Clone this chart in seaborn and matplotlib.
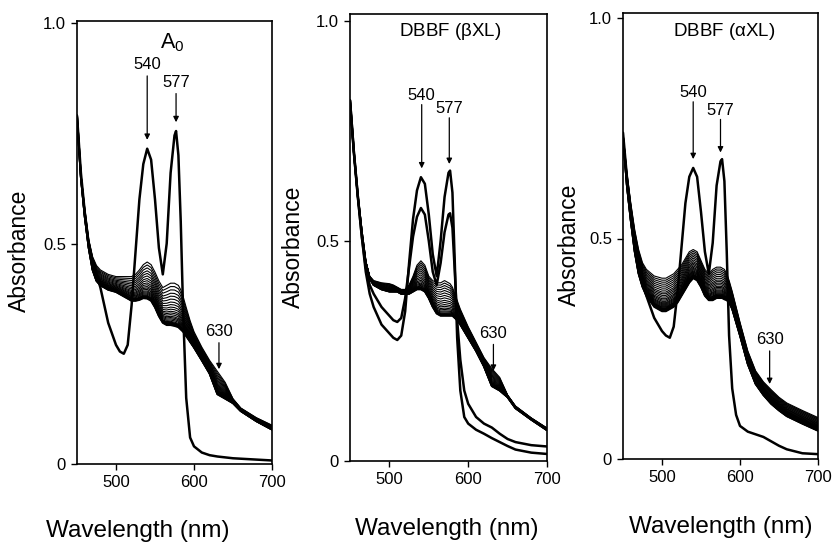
import numpy as np
import pandas as pd
import matplotlib
matplotlib.use("Agg")
import matplotlib.pyplot as plt
import seaborn as sns

# ---------------- data ----------------
wavelength = [450, 455, 460, 465, 470, 475, 480, 490, 500, 505, 510, 515, 520, 525,
              530, 535, 540, 545, 550, 555, 560, 565, 570, 575, 577, 580, 583, 586,
              590, 595, 600, 610, 620, 630, 640, 650, 660, 680, 700]

# Panel A0
a0_oxy = [0.79, 0.66, 0.57, 0.50, 0.46, 0.43, 0.40, 0.32, 0.27, 0.255, 0.25, 0.27, 0.36, 0.48,
          0.60, 0.68, 0.715, 0.69, 0.60, 0.49, 0.43, 0.50, 0.66, 0.745, 0.755, 0.70, 0.55, 0.35,
          0.15, 0.06, 0.04, 0.026, 0.02, 0.017, 0.015, 0.013, 0.012, 0.010, 0.008]
a0_top = [0.79, 0.66, 0.58, 0.51, 0.47, 0.45, 0.44, 0.43, 0.425, 0.425, 0.425, 0.425, 0.425, 0.43,
          0.44, 0.452, 0.458, 0.452, 0.435, 0.415, 0.40, 0.405, 0.41, 0.41, 0.408, 0.405, 0.395, 0.38,
          0.355, 0.325, 0.30, 0.265, 0.235, 0.21, 0.185, 0.148, 0.127, 0.105, 0.088]
a0_bottom = [0.79, 0.65, 0.56, 0.49, 0.44, 0.415, 0.405, 0.395, 0.39, 0.385, 0.38, 0.375, 0.37, 0.37,
             0.372, 0.376, 0.375, 0.37, 0.355, 0.335, 0.32, 0.315, 0.315, 0.313, 0.312, 0.31, 0.305, 0.30,
             0.29, 0.277, 0.264, 0.235, 0.205, 0.158, 0.148, 0.138, 0.12, 0.097, 0.078]
a0_levels = [0.0, 0.08, 0.16, 0.24, 0.31, 0.38, 0.45, 0.51, 0.57, 0.62, 0.67, 0.71, 0.75,
             0.79, 0.82, 0.85, 0.88, 0.91, 0.93, 0.95, 0.97, 0.985, 1.0]

# Panel DBBF (beta XL)
b_oxy1 = [0.82, 0.70, 0.60, 0.51, 0.43, 0.38, 0.35, 0.31, 0.29, 0.28, 0.275, 0.285, 0.34, 0.45,
          0.55, 0.615, 0.645, 0.63, 0.56, 0.47, 0.42, 0.50, 0.60, 0.655, 0.66, 0.61, 0.45, 0.28,
          0.16, 0.10, 0.085, 0.071, 0.062, 0.052, 0.043, 0.034, 0.026, 0.019, 0.016]
b_oxy2 = [0.82, 0.70, 0.60, 0.51, 0.44, 0.40, 0.38, 0.35, 0.33, 0.32, 0.316, 0.325, 0.37, 0.44,
          0.51, 0.555, 0.575, 0.56, 0.50, 0.43, 0.40, 0.45, 0.52, 0.56, 0.563, 0.53, 0.43, 0.32,
          0.23, 0.16, 0.13, 0.10, 0.085, 0.076, 0.062, 0.05, 0.043, 0.036, 0.033]
b_top = [0.82, 0.70, 0.60, 0.52, 0.455, 0.42, 0.41, 0.405, 0.403, 0.40, 0.395, 0.39, 0.39, 0.40,
         0.42, 0.445, 0.455, 0.445, 0.42, 0.41, 0.405, 0.405, 0.41, 0.405, 0.403, 0.395, 0.38, 0.365,
         0.345, 0.325, 0.305, 0.27, 0.235, 0.21, 0.19, 0.15, 0.125, 0.098, 0.075]
b_bottom = [0.82, 0.70, 0.60, 0.52, 0.45, 0.415, 0.40, 0.39, 0.385, 0.385, 0.385, 0.38, 0.38, 0.38,
            0.385, 0.39, 0.39, 0.385, 0.37, 0.35, 0.335, 0.33, 0.33, 0.33, 0.33, 0.33, 0.325, 0.32,
            0.31, 0.295, 0.28, 0.25, 0.215, 0.17, 0.16, 0.145, 0.12, 0.094, 0.07]
b_levels = [0.0, 0.07, 0.14, 0.21, 0.28, 0.35, 0.42, 0.49, 0.56, 0.62, 0.68, 0.73, 0.78,
            0.82, 0.86, 0.89, 0.92, 0.95, 0.97, 0.985, 1.0]

# Panel DBBF (alpha XL)
c_oxy = [0.74, 0.64, 0.56, 0.49, 0.44, 0.40, 0.37, 0.32, 0.29, 0.28, 0.275, 0.30, 0.38, 0.48,
         0.58, 0.64, 0.66, 0.64, 0.56, 0.47, 0.42, 0.49, 0.62, 0.675, 0.68, 0.63, 0.47, 0.28,
         0.16, 0.10, 0.075, 0.062, 0.056, 0.05, 0.04, 0.03, 0.022, 0.013, 0.011]
c_top = [0.74, 0.65, 0.58, 0.52, 0.475, 0.445, 0.43, 0.415, 0.41, 0.41, 0.415, 0.42, 0.43, 0.44,
         0.455, 0.47, 0.475, 0.47, 0.45, 0.43, 0.42, 0.43, 0.435, 0.435, 0.433, 0.43, 0.42, 0.405,
         0.38, 0.345, 0.31, 0.245, 0.20, 0.175, 0.157, 0.14, 0.127, 0.11, 0.094]
c_bottom = [0.73, 0.62, 0.54, 0.47, 0.42, 0.39, 0.37, 0.345, 0.335, 0.335, 0.34, 0.345, 0.355, 0.37,
            0.385, 0.40, 0.41, 0.405, 0.39, 0.37, 0.36, 0.36, 0.365, 0.365, 0.365, 0.362, 0.36, 0.355,
            0.34, 0.31, 0.28, 0.215, 0.17, 0.145, 0.125, 0.11, 0.097, 0.08, 0.064]
c_levels = [0.0, 0.06, 0.12, 0.18, 0.24, 0.30, 0.36, 0.42, 0.47, 0.52, 0.57, 0.62, 0.66,
            0.70, 0.74, 0.77, 0.80, 0.83, 0.86, 0.88, 0.90, 0.92, 0.94, 0.96, 0.98, 1.0]

titles = ["A$_0$", "DBBF ($\\beta$XL)", "DBBF ($\\alpha$XL)"]
x_ticks = [500, 600, 700]
y_ticks = [0, 0.5, 1.0]
y_ticklabels = ["0", "0.5", "1.0"]
peak_labels = ["540", "577", "630"]

# ---------------- styling ----------------
sns.set_theme(style="ticks")
plt.rcParams["font.family"] = ["Liberation Sans", "DejaVu Sans"]
plt.rcParams["mathtext.fontset"] = "dejavusans"
plt.rcParams["mathtext.default"] = "regular"
plt.rcParams["text.color"] = "black"
plt.rcParams["axes.labelcolor"] = "black"
plt.rcParams["xtick.color"] = "black"
plt.rcParams["ytick.color"] = "black"

fig = plt.figure(figsize=(8.35, 5.46), dpi=100)

W, H = 835, 546
# (left px, right px, zero px, one px, ymax)
layout = [(77, 272, 464, 23, 1.005), (350, 547, 461, 21, 1.015), (623, 818, 459, 18, 1.012)]


def family(top, bottom, levels):
    top = np.asarray(top)
    bottom = np.asarray(bottom)
    return [top + f * (bottom - top) for f in levels]


panels = [
    dict(oxy=[a0_oxy], fam=family(a0_top, a0_bottom, a0_levels),
         ann=[(540, 0.905, 0.88, 0.735), (577, 0.865, 0.84, 0.775), (632, 0.30, 0.275, 0.215)],
         title=(572, 0.955), tsize=15.5, xlab=0.31, ylab=-0.235),
    dict(oxy=[b_oxy1, b_oxy2], fam=family(b_top, b_bottom, b_levels),
         ann=[(541, 0.83, 0.81, 0.665), (576, 0.80, 0.78, 0.675), (632, 0.29, 0.265, 0.205)],
         title=(577, 0.975), tsize=13.5, xlab=0.49, ylab=-0.23),
    dict(oxy=[c_oxy], fam=family(c_top, c_bottom, c_levels),
         ann=[(540, 0.83, 0.81, 0.68), (575, 0.79, 0.77, 0.695), (638, 0.27, 0.245, 0.17)],
         title=(580, 0.97), tsize=13.5, xlab=0.5, ylab=-0.215),
]

for i, (p, (lpx, rpx, zpx, opx, ymax)) in enumerate(zip(panels, layout)):
    unit = zpx - opx
    height_px = unit * ymax
    ax = fig.add_axes([lpx / W, (H - zpx) / H, (rpx - lpx) / W, height_px / H])
    nf = len(p["fam"])
    for k, curve in enumerate(p["fam"]):
        df = pd.DataFrame({"nm": wavelength, "A": curve})
        lw = 0.8 if k < nf - 4 else 1.4
        sns.lineplot(data=df, x="nm", y="A", ax=ax, color="black", lw=lw,
                     estimator=None, sort=False, legend=False)
    for curve in p["oxy"]:
        df = pd.DataFrame({"nm": wavelength, "A": curve})
        sns.lineplot(data=df, x="nm", y="A", ax=ax, color="black", lw=1.8,
                     estimator=None, sort=False, legend=False)

    ax.set_xlim(450, 700)
    ax.set_ylim(0, ymax)
    ax.set_xticks(x_ticks)
    ax.set_yticks(y_ticks)
    ax.set_yticklabels(y_ticklabels)
    ax.tick_params(axis="both", direction="out", length=4, width=1.0,
                   labelsize=12, pad=4, colors="black")
    for s in ax.spines.values():
        s.set_linewidth(1.2)
        s.set_color("black")
    ax.set_xlabel("Wavelength (nm)", fontsize=17.5)
    ax.set_ylabel("Absorbance", fontsize=16.5)
    ax.xaxis.set_label_coords(p["xlab"], -0.127)
    ax.yaxis.set_label_coords(p["ylab"], 0.48)

    ax.text(p["title"][0], p["title"][1], titles[i], ha="center", va="center",
            fontsize=p["tsize"])
    for lab, (xv, ty, y0, y1) in zip(peak_labels, p["ann"]):
        ax.text(xv, ty, lab, ha="center", va="center", fontsize=12)
        ax.annotate("", xy=(xv, y1), xytext=(xv, y0),
                    arrowprops=dict(arrowstyle="-|>", color="black", lw=0.9,
                                    mutation_scale=8, shrinkA=0, shrinkB=0))

fig.savefig("out.png", dpi=100)
